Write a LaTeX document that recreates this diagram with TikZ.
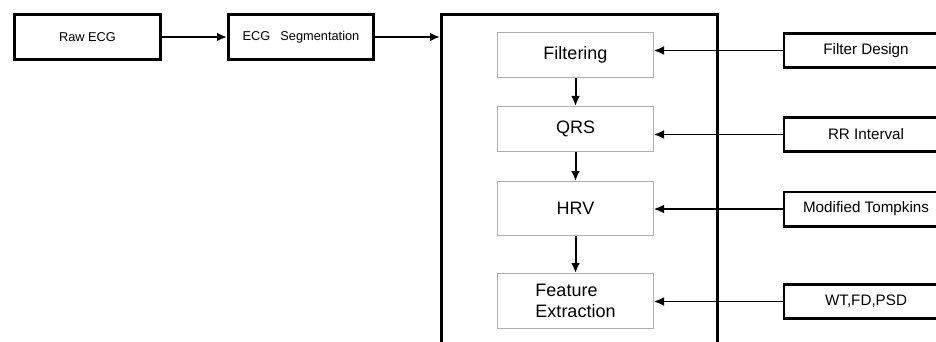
\documentclass[tikz,border=0pt]{standalone}
\usepackage{fontspec}
\setmainfont{Liberation Sans}
\usepackage{tikz}
\usetikzlibrary{arrows.meta}
\definecolor{boxgray}{RGB}{175,175,175}
\tikzset{
	outerbox/.style={draw, line width=1.3pt, inner sep=0pt},
	innerbox/.style={draw=boxgray, line width=0.5pt, minimum width=78pt, align=left, font=\fontsize{9}{10.5}\selectfont},
	sidebox/.style={draw, line width=1.3pt, minimum width=82pt, minimum height=17.2pt, font=\fontsize{7.6}{9}\selectfont},
	>={Latex[length=5pt,width=4.4pt]}
}

\begin{document}
\begin{tikzpicture}[x=0.5pt, y=-0.5pt]
	\clip (0,0) rectangle (936,342);
	% left chain
	\node[outerbox, minimum width=73.2pt, minimum height=22.7pt, font=\fontsize{6.4}{8}\selectfont] (raw) at (87.5,37) {Raw ECG};
	\node[outerbox, minimum width=72.7pt, minimum height=22.7pt, font=\fontsize{6.4}{8}\selectfont] (seg) at (301,37) {ECG\hspace{5pt}Segmentation};
	% processing block
	\node[outerbox, minimum width=138.2pt, minimum height=198.7pt] (proc) at (579.5,213) {};
	\node[innerbox, minimum height=22.5pt] (filt) at (575.5,55) {Filtering};
	\node[innerbox, minimum height=22.5pt] (qrs) at (575.5,129) {QRS};
	\node[innerbox, minimum height=27pt] (hrv) at (575.5,208.5) {HRV};
	\node[innerbox, minimum height=27.5pt] (feat) at (575.5,301) {Feature\\Extraction};
	% inputs on the right (cut off at the edge)
	\node[sidebox] (fdes) at (866,50.5) {Filter Design};
	\node[sidebox] (rr) at (866,134.5) {RR Interval};
	\node[sidebox] (mt) at (866,209) {Modified Tompkins};
	\node[sidebox] (wt) at (866,301.5) {WT,FD,PSD};
	
	\draw[->, line width=1pt] (raw) -- (seg);
	\draw[->, line width=1pt] (seg.east) -- (seg.east -| proc.west);
	\draw[->, line width=1pt] (filt) -- (qrs);
	\draw[->, line width=1pt] (qrs) -- (hrv);
	\draw[->, line width=1pt] (hrv) -- (feat);
	\draw[->, line width=0.6pt] (fdes) -- (fdes -| filt.east);
	\draw[->, line width=0.6pt] (rr) -- (rr -| qrs.east);
	\draw[->, line width=0.6pt] (mt) -- (mt -| hrv.east);
	\draw[->, line width=0.6pt] (wt) -- (wt -| feat.east);
\end{tikzpicture}
\end{document}
